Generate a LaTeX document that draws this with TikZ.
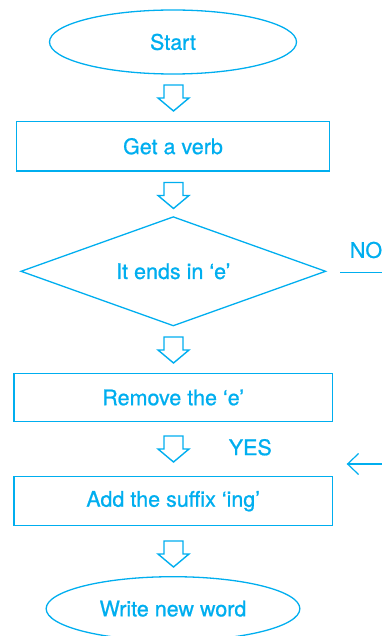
\documentclass[tikz,border=0pt]{standalone}
\usepackage{fontspec}
\setmainfont{TeX Gyre Heros}
\newfontfamily\medfont{TeX Gyre Heros}[FakeBold=0.8]
\usetikzlibrary{shapes.geometric,arrows.meta}
\definecolor{fc}{RGB}{0,174,239}
\tikzset{
  base/.style={draw=fc,line width=1.3pt,text=fc,font=\medfont\fontsize{21.5}{25}\selectfont,inner sep=0pt},
  oval/.style={base,ellipse},
  box/.style={base,rectangle},
  dia/.style={base,diamond},
  lbl/.style={text=fc,font=\medfont\fontsize{21.5}{25}\selectfont,inner sep=0pt},
  hollow/.style={draw=fc,line width=1.4pt,line join=miter},
  downarrow/.pic={\draw[hollow] (-9.5,0) -- (9.5,0) -- (9.5,13) -- (15.5,13) -- (0,26) -- (-15.5,13) -- (-9.5,13) -- cycle;}
}
\begin{document}
\begin{tikzpicture}[x=1pt,y=-1pt]
\useasboundingbox (0,0) rectangle (382,636);
\node[oval,minimum width=247pt,minimum height=64pt] (start) at (173,42) {Start};
\pic (a1) at (173.5,85) {downarrow};
\node[box,minimum width=312.6pt,minimum height=49.3pt] (verb) at (173,146.3) {Get a verb};
\pic (a2) at (173.5,182.5) {downarrow};
\node[dia,minimum width=305pt,minimum height=109.3pt,aspect=2.8] (ends) at (173.3,271.3) {It ends in ‘e’};
\pic (a3) at (173.5,337) {downarrow};
\node[box,minimum width=318.3pt,minimum height=48.3pt] (remove) at (173.2,397.5) {Remove the ‘e’};
\pic (a4) at (173.5,436) {downarrow};
\node[box,minimum width=318.3pt,minimum height=49pt] (add) at (173.2,501.2) {Add the suffix ‘ing’};
\pic (a5) at (173.5,541) {downarrow};
\node[oval,minimum width=253.7pt,minimum height=64pt] (write) at (173,608.7) {Write new word};
\node[lbl] (no) at (366,250) {NO};
\node[lbl] (yes) at (250.3,447.3) {YES};
\coordinate (nostart) at (340,272.3);
\coordinate (noend) at (384,272.3);
\draw[fc,line width=1.3pt] (nostart) -- (noend);
\coordinate (backstart) at (384,464);
\coordinate (backend) at (346.7,464);
\draw[fc,line width=1.2pt,-{Straight Barb[length=11pt,width=21pt,line width=1.2pt]}] (backstart) -- (backend);
\end{tikzpicture}
\end{document}
